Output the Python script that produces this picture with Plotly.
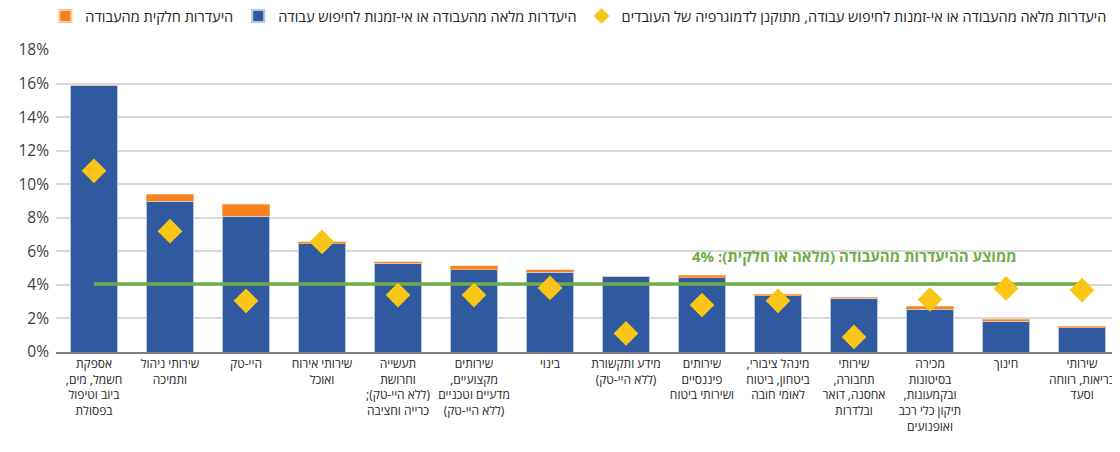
import plotly.graph_objects as go

# ענפים (משמאל לימין כמו בגרף המקורי)
categories = [
    "אספקת<br>חשמל, מים,<br>ביוב וטיפול<br>בפסולת",
    "שירותי ניהול<br>ותמיכה",
    "היי-טק",
    "שירותי אירוח<br>ואוכל",
    "תעשייה<br>וחרושת<br>(ללא היי-טק);<br>כרייה וחציבה",
    "שירותים<br>מקצועיים,<br>מדעיים וטכניים<br>(ללא היי-טק)",
    "בינוי",
    "מידע ותקשורת<br>(ללא היי-טק)",
    "שירותים<br>פיננסיים<br>ושירותי ביטוח",
    "מינהל ציבורי,<br>ביטחון, ביטוח<br>לאומי חובה",
    "שירותי<br>תחבורה,<br>אחסנה, דואר<br>ובלדרות",
    "מכירה<br>בסיטונות<br>ובקמעונות,<br>תיקון כלי רכב<br>ואופנועים",
    "חינוך",
    "שירותי<br>בריאות, רווחה<br>וסעד",
]

# היעדרות מלאה / אי-זמינות (%)
full_absence = [15.9, 9.0, 8.1, 6.46, 5.29, 4.91, 4.74, 4.52, 4.42, 3.35, 3.2, 2.54, 1.83, 1.45]
# היעדרות חלקית (%)
partial_absence = [0.0, 0.4, 0.7, 0.12, 0.08, 0.22, 0.15, 0.0, 0.16, 0.1, 0.07, 0.18, 0.11, 0.08]
# מתוקנן לדמוגרפיה (%)
adjusted = [10.8, 7.2, 3.05, 6.56, 3.39, 3.39, 3.82, 1.11, 2.8, 3.05, 0.9, 3.13, 3.79, 3.69]
# ממוצע
avg_line = [4.05] * len(categories)

name_full = "היעדרות מלאה מהעבודה או אי-זמנות לחיפוש עבודה"
name_partial = "היעדרות חלקית מהעבודה"
name_adj = "היעדרות מלאה מהעבודה או אי-זמנות לחיפוש עבודה, מתוקנן לדמוגרפיה של העובדים"

FONT = "Open Sans, Noto Sans, DejaVu Sans, sans-serif"


# סימני RLM כדי שפיסוק בסוף שורה יוצג כמו בטקסט מימין לשמאל
def rtl(s):
    return "<br>".join("\u200f" + line + "\u200f" for line in s.split("<br>"))


x_labels = [rtl(c) for c in categories]

fig = go.Figure()
fig.add_trace(go.Bar(
    x=x_labels, y=full_absence, name=name_full, legendrank=2,
    marker=dict(color="#2F5AA0", line=dict(color="#B4C6E4", width=1)),
))
fig.add_trace(go.Bar(
    x=x_labels, y=partial_absence, name=name_partial, legendrank=1,
    marker=dict(color="#F7821F", line=dict(color="#FBC9A0", width=0.5)),
))
fig.add_trace(go.Scatter(
    x=x_labels, y=avg_line, mode="lines", showlegend=False,
    line=dict(color="#70AD47", width=3.5),
))
fig.add_trace(go.Scatter(
    x=x_labels, y=adjusted, mode="markers", name=name_adj, legendrank=3,
    marker=dict(symbol="diamond", size=19, color="#F9C516"),
))

fig.add_annotation(
    x=x_labels[10], y=5.7, text="ממוצע ההיעדרות מהעבודה (מלאה או חלקית): 4%",
    showarrow=False, font=dict(family=FONT, size=15, color="#70AD47", weight="bold"),
)

# הדף מוסיף שוליים של 8 פיקסלים, לכן הגרף קטן ב-8 פיקסלים
fig.update_layout(
    barmode="stack",
    bargap=0.37,
    width=1112, height=444,
    margin=dict(l=48, r=0, t=42, b=100, autoexpand=False),
    plot_bgcolor="white", paper_bgcolor="white",
    font=dict(family=FONT, color="#262626"),
    legend=dict(
        orientation="h",
        x=-0.01, y=1.1126, xanchor="left", yanchor="middle",
        font=dict(size=14.5, color="#262626"), itemsizing="constant",
        traceorder="normal", itemwidth=30,
    ),
    yaxis=dict(
        range=[0, 18], dtick=2, ticksuffix="%",
        gridcolor="#D9D9D9", gridwidth=1.5, zeroline=False,
        tickfont=dict(size=15.5, color="#404040"),
        automargin=False, ticklabelstandoff=6,
    ),
    xaxis=dict(
        range=[-0.5, len(categories) - 0.5],
        showline=True, linecolor="#7F7F7F", linewidth=1.5,
        tickfont=dict(size=12, color="#262626"),
        tickangle=0, automargin=False,
    ),
)

fig.write_html("out.html")
